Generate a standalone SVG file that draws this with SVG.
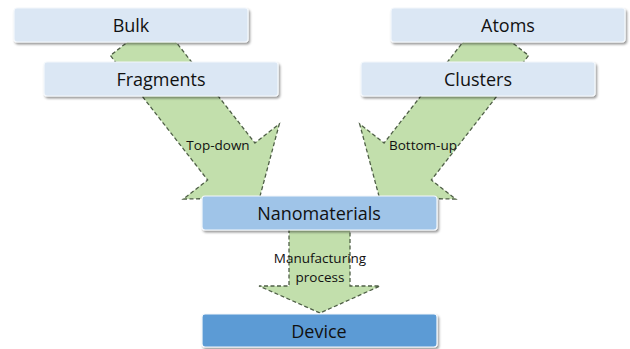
<svg xmlns="http://www.w3.org/2000/svg" width="630" height="349" viewBox="0 0 630 349">
<style>
.box{stroke:#f4f8fc;stroke-width:1.2;filter:url(#sh)}
.light{fill:#dbe7f4}
.mid{fill:#9fc4e8}
.dark{fill:#5b9bd5}
.lbl{font-family:"Open Sans","Liberation Sans",sans-serif;font-size:18px;fill:#111111;text-anchor:middle}
.arr{fill:#c2dfac;stroke:#4f5f47;stroke-width:1.3;stroke-dasharray:4 2.5}
.al{font-family:"Open Sans","Liberation Sans",sans-serif;font-size:13.5px;fill:#111111;text-anchor:middle}
</style>
<defs>
<filter id="sh" x="-10%" y="-30%" width="120%" height="170%">
<feDropShadow dx="1.5" dy="2" stdDeviation="1.2" flood-color="#000" flood-opacity="0.4"/>
</filter>
</defs>
<rect width="630" height="349" fill="#ffffff"/>
<g id="connectors">
<polygon class="arr" transform="translate(134,37) rotate(52)" points="0,-30 158,-30 158,-61 204,0 158,61 158,30 0,30"/>
<polygon class="arr" transform="translate(639,0) scale(-1,1) translate(134,37) rotate(52)" points="0,-30 158,-30 158,-61 204,0 158,61 158,30 0,30"/>
<polygon class="arr" points="289,222 350,222 350,286 380,286 320,313 259,286 289,286"/>
<text class="al" x="218" y="150">Top-down</text>
<text class="al" x="423" y="150">Bottom-up</text>
<text class="al" x="320" y="263">Manufacturing</text>
<text class="al" x="320" y="282">process</text>
</g>
<g id="bulk"><rect class="box light" x="14" y="8" width="234" height="34" rx="3"/><text class="lbl" x="131" y="31.5">Bulk</text></g>
<g id="fragments"><rect class="box light" x="44" y="62" width="234" height="34" rx="3"/><text class="lbl" x="161" y="85.5">Fragments</text></g>
<g id="atoms"><rect class="box light" x="391" y="8" width="234" height="34" rx="3"/><text class="lbl" x="508" y="31.5">Atoms</text></g>
<g id="clusters"><rect class="box light" x="361" y="62" width="234" height="34" rx="3"/><text class="lbl" x="478" y="85.5">Clusters</text></g>
<g id="nanomaterials"><rect class="box mid" x="202" y="196" width="235" height="34" rx="3"/><text class="lbl" x="319" y="219.5">Nanomaterials</text></g>
<g id="device"><rect class="box dark" x="202" y="314" width="235" height="33" rx="3"/><text class="lbl" x="319" y="337.5">Device</text></g>
</svg>
